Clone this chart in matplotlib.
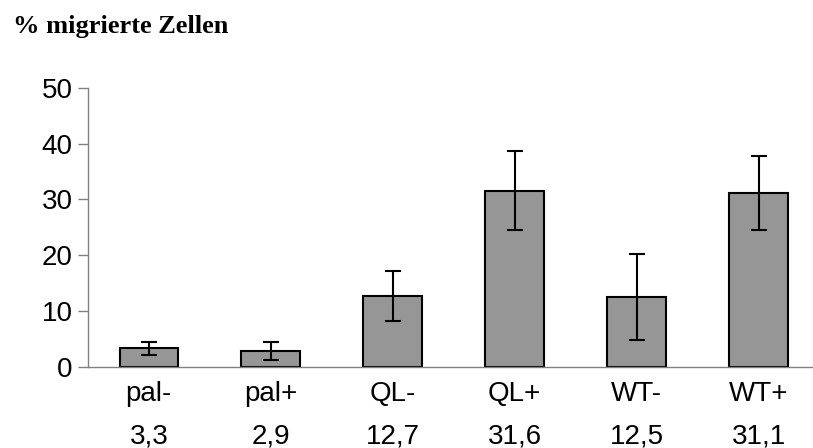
import matplotlib.pyplot as plt
import numpy as np

categories = ['pal-', 'pal+', 'QL-', 'QL+', 'WT-', 'WT+']
values = [3.3, 2.9, 12.7, 31.6, 12.5, 31.1]
errors = [1.2, 1.6, 4.4, 7.1, 7.7, 6.6]
value_labels = ['3,3', '2,9', '12,7', '31,6', '12,5', '31,1']

plt.rcParams['font.family'] = ['Liberation Sans', 'DejaVu Sans']

fig = plt.figure(figsize=(8.13, 4.48), dpi=100)
ax = fig.add_axes([0.108, 0.181, 0.9, 0.623])

x = np.arange(len(categories))
ax.bar(x, values, width=0.48, color='#969696', edgecolor='black', linewidth=1.5,
       yerr=errors, capsize=5.5, error_kw=dict(ecolor='black', elinewidth=1.5, capthick=1.5))

ax.set_xlim(-0.5, 5.5)
ax.set_ylim(0, 50)
ax.set_yticks(range(0, 51, 10))
ax.set_xticks(x)
ax.set_xticklabels(categories)
ax.tick_params(axis='x', length=0, pad=10, labelsize=20)
ax.tick_params(axis='y', length=7, width=1, color='#808080', labelsize=20, pad=4)

for s in ['top', 'right']:
    ax.spines[s].set_visible(False)
for s in ['left', 'bottom']:
    ax.spines[s].set_color('#808080')
    ax.spines[s].set_linewidth(1)

for i, lab in enumerate(value_labels):
    ax.text(i, -12.4, lab, ha='center', va='center', fontsize=20, clip_on=False)

fig.text(0.016, 0.94, '% migrierte Zellen', fontsize=19, fontweight='bold',
         family=['Liberation Serif', 'DejaVu Serif'], ha='left', va='center')

fig.savefig('out.png', dpi=100)
